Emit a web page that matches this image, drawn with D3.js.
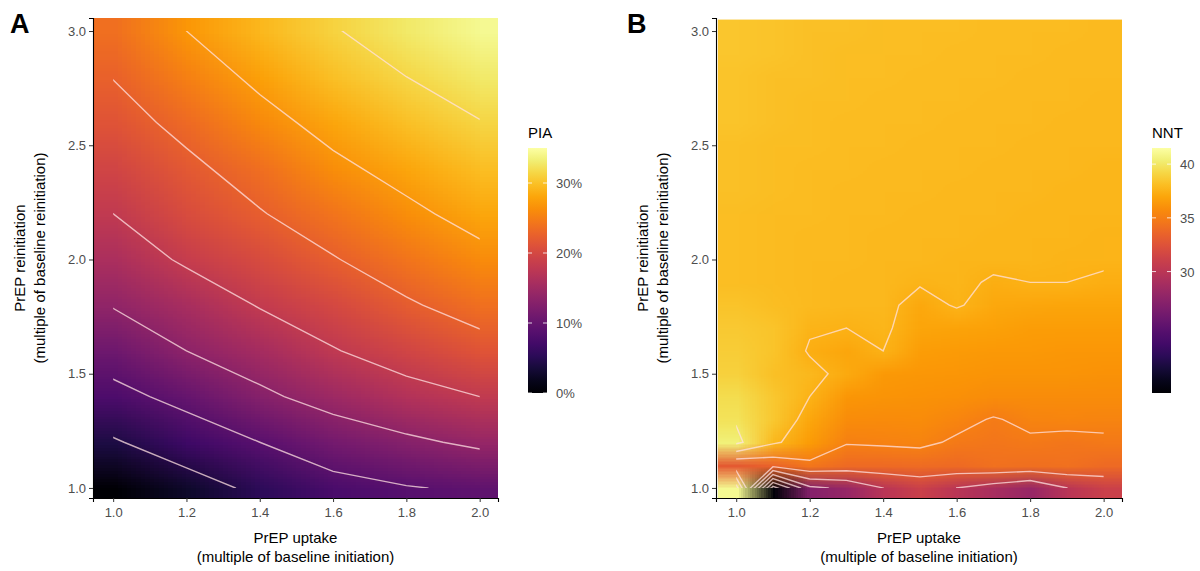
<!DOCTYPE html>
<html>
<head>
<meta charset="utf-8">
<script src="https://cdn.jsdelivr.net/npm/d3@7"></script>
<style>
  body { margin: 0; background: #fff; }
  text { font-family: "Liberation Sans", Arial, sans-serif; }
</style>
</head>
<body>
<svg id="chart" width="1200" height="571"></svg>
<script>
// ---- data ----
// Panel A: PIA (%) on grid, x = PrEP uptake, y = PrEP reinitiation
const piaX = [1.0, 1.2, 1.4, 1.6, 1.8, 2.0];
const piaY = [1.0, 1.2, 1.4, 1.6, 1.8, 2.0, 2.2, 2.4, 2.6, 2.8, 3.0];
// rows = y (bottom to top), columns = x
const piaValues = [
  [0.0, 2.7, 5.4, 7.7, 8.8, 9.5],
  [4.1, 6.8, 9.0, 11.3, 12.8, 14.2],
  [7.9, 10.1, 12.8, 14.9, 16.7, 18.0],
  [10.8, 13.5, 15.5, 17.8, 19.6, 21.2],
  [13.7, 15.8, 18.2, 20.0, 22.1, 23.9],
  [16.0, 18.5, 20.3, 22.3, 24.3, 26.1],
  [18.0, 20.5, 22.3, 24.3, 26.3, 28.1],
  [19.6, 21.8, 23.9, 26.3, 28.1, 29.7],
  [21.2, 23.4, 25.9, 28.1, 29.9, 31.4],
  [22.6, 25.2, 27.7, 29.9, 31.5, 32.9],
  [23.9, 27.0, 29.3, 31.3, 32.9, 34.2]
];
const piaLevels = [4.5, 9, 13.5, 18, 22.5, 27, 31.5];
const piaTicks = [0, 10, 20, 30];

// Panel B: NNT on grid
const nntX = [1.0, 1.1, 1.2, 1.3, 1.4, 1.5, 1.6, 1.7, 1.8, 1.9, 2.0];
const nntY = [1.0, 1.1, 1.2, 1.3, 1.4, 1.5, 1.6, 1.7, 1.8, 1.9, 2.0,
              2.1, 2.2, 2.3, 2.4, 2.5, 2.6, 2.7, 2.8, 2.9, 3.0];
const nntValues = [
  [41.0, 19.0, 27.0, 28.0, 30.0, 31.0, 30.0, 29.0, 28.0, 30.0, 31.0],
  [33.0, 33.5, 34.6, 34.0, 34.0, 34.1, 34.0, 34.3, 34.2, 34.3, 34.0],
  [40.5, 37.8, 36.5, 35.1, 35.2, 35.3, 34.8, 34.6, 34.8, 34.6, 34.8],
  [39.8, 38.5, 37.0, 35.8, 35.7, 35.8, 35.4, 34.9, 35.3, 35.4, 35.3],
  [39.5, 38.5, 37.5, 36.2, 36.1, 36.0, 35.9, 35.8, 35.8, 35.8, 35.8],
  [39.0, 38.2, 37.8, 37.2, 36.4, 36.3, 36.2, 36.1, 36.1, 36.1, 36.0],
  [38.8, 38.3, 37.4, 37.0, 37.5, 36.6, 36.5, 36.4, 36.4, 36.3, 36.3],
  [38.6, 38.3, 37.6, 37.5, 37.7, 36.9, 36.8, 36.7, 36.6, 36.6, 36.6],
  [38.3, 38.1, 37.9, 37.8, 37.8, 37.1, 37.6, 37.1, 37.0, 36.9, 36.9],
  [38.1, 38.0, 37.9, 37.8, 37.8, 37.6, 37.7, 37.4, 37.5, 37.5, 37.4],
  [38.1, 38.0, 37.9, 37.9, 37.8, 37.8, 37.7, 37.7, 37.7, 37.6, 37.6],
  [38.1, 38.0, 37.9, 37.9, 37.8, 37.8, 37.8, 37.7, 37.7, 37.7, 37.6],
  [38.1, 38.0, 38.0, 37.9, 37.9, 37.8, 37.8, 37.8, 37.7, 37.7, 37.7],
  [38.2, 38.1, 38.0, 37.9, 37.9, 37.9, 37.8, 37.8, 37.8, 37.7, 37.7],
  [38.2, 38.1, 38.0, 38.0, 37.9, 37.9, 37.9, 37.8, 37.8, 37.8, 37.7],
  [38.2, 38.1, 38.1, 38.0, 38.0, 37.9, 37.9, 37.9, 37.8, 37.8, 37.8],
  [38.3, 38.2, 38.1, 38.0, 38.0, 38.0, 37.9, 37.9, 37.9, 37.8, 37.8],
  [38.3, 38.2, 38.1, 38.1, 38.0, 38.0, 38.0, 37.9, 37.9, 37.9, 37.8],
  [38.3, 38.2, 38.2, 38.1, 38.1, 38.0, 38.0, 38.0, 37.9, 37.9, 37.9],
  [38.4, 38.3, 38.2, 38.1, 38.1, 38.1, 38.0, 38.0, 38.0, 37.9, 37.9],
  [38.4, 38.3, 38.2, 38.2, 38.1, 38.1, 38.1, 38.0, 38.0, 38.0, 37.9]
];
const nntLevels = [20, 22.5, 25, 27.5, 30, 32.5, 35, 37.5, 40];
const nntTicks = [30, 35, 40];

const axisTicks = [1.0, 1.2, 1.4, 1.6, 1.8, 2.0];
const yTicks = [1.0, 1.5, 2.0, 2.5, 3.0];

const svg = d3.select("#chart");

function panel(opts) {
  const { left, right, top, bottom, xs, ys, values, levels, step, color, letter, letterX } = opts;

  const x = d3.scaleLinear().domain([0.945, 2.05]).range([left, right]);
  const y = d3.scaleLinear().domain([0.956, 3.057]).range([bottom, top]);
  const nx = xs.length, ny = ys.length;
  const sx = step[0], sy = step[1];

  // raster: one pixel per grid value, smoothed when scaled up
  const canvas = document.createElement("canvas");
  canvas.width = nx; canvas.height = ny;
  const ctx = canvas.getContext("2d");
  for (let j = 0; j < ny; j++) {
    for (let i = 0; i < nx; i++) {
      ctx.fillStyle = color(values[j][i]);
      ctx.fillRect(i, ny - 1 - j, 1, 1);
    }
  }
  const clipId = "clip" + letter;
  svg.append("clipPath").attr("id", clipId)
     .append("rect")
     .attr("x", left).attr("y", top)
     .attr("width", right - left).attr("height", bottom - top);

  svg.append("image")
     .attr("href", canvas.toDataURL())
     .attr("x", x(xs[0] - sx / 2))
     .attr("y", y(ys[ny - 1] + sy / 2))
     .attr("width", x(xs[nx - 1] + sx / 2) - x(xs[0] - sx / 2))
     .attr("height", y(ys[0] - sy / 2) - y(ys[ny - 1] + sy / 2))
     .attr("preserveAspectRatio", "none")
     .attr("clip-path", `url(#${clipId})`);

  // contours
  const flat = [];
  values.forEach(row => row.forEach(v => flat.push(v)));
  const contours = d3.contours().size([nx, ny]).smooth(true).thresholds(levels)(flat);
  const proj = d3.geoTransform({
    point: function(px, py) {
      this.stream.point(x(xs[0] + (px - 0.5) * sx), y(ys[0] + (py - 0.5) * sy));
    }
  });
  const innerClip = "inner" + letter;
  svg.append("clipPath").attr("id", innerClip)
     .append("rect")
     .attr("x", x(xs[0])).attr("y", y(ys[ny - 1]))
     .attr("width", x(xs[nx - 1]) - x(xs[0]))
     .attr("height", y(ys[0]) - y(ys[ny - 1]));
  svg.append("g").attr("clip-path", `url(#${innerClip})`)
     .selectAll("path").data(contours).join("path")
     .attr("d", d3.geoPath(proj))
     .attr("fill", "none")
     .attr("stroke", "rgba(255,225,225,0.75)")
     .attr("stroke-width", 1.4);

  // axes
  const xa = svg.append("g").attr("transform", `translate(0,${bottom})`)
     .call(d3.axisBottom(x).tickValues(axisTicks).tickFormat(d3.format(".1f"))
       .tickSizeOuter(0).tickSize(4).tickPadding(6));
  const ya = svg.append("g").attr("transform", `translate(${left},0)`)
     .call(d3.axisLeft(y).tickValues(yTicks).tickFormat(d3.format(".1f")).tickSizeOuter(0).tickSize(4));
  [xa, ya].forEach(a => {
    a.select(".domain").attr("stroke", "#000").attr("stroke-width", 1.1);
    a.selectAll(".tick line").attr("stroke", "#333");
    a.selectAll(".tick text").attr("font-size", 13).attr("fill", "#4d4d4d")
     .attr("font-family", "Liberation Sans, Arial, sans-serif");
  });

  const cx = (left + right) / 2;
  svg.append("text").attr("x", cx).attr("y", 543).attr("text-anchor", "middle")
     .attr("font-size", 15).text("PrEP uptake");
  svg.append("text").attr("x", cx).attr("y", 562).attr("text-anchor", "middle")
     .attr("font-size", 15).text("(multiple of baseline initiation)");
  const cy = (top + bottom) / 2;
  svg.append("text").attr("transform", `translate(${left - 68},${cy}) rotate(-90)`)
     .attr("text-anchor", "middle").attr("font-size", 15).text("PrEP reinitiation");
  svg.append("text").attr("transform", `translate(${left - 48},${cy}) rotate(-90)`)
     .attr("text-anchor", "middle").attr("font-size", 15).text("(multiple of baseline reinitiation)");

  svg.append("text").attr("x", letterX).attr("y", 33)
     .attr("font-size", 27).attr("font-weight", "bold").text(letter);
}

function legend(opts) {
  const { lx, title, color, domain, ticks, fmt } = opts;
  const top = 148, bottom = 393, w = 19;
  const s = d3.scaleLinear().domain(domain).range([bottom, top]);
  const gid = "grad" + title;
  const grad = svg.append("defs").append("linearGradient").attr("id", gid)
     .attr("x1", 0).attr("y1", 1).attr("x2", 0).attr("y2", 0);
  d3.range(0, 1.001, 0.05).forEach(t => {
    grad.append("stop").attr("offset", t)
        .attr("stop-color", color(domain[0] + t * (domain[1] - domain[0])));
  });
  svg.append("rect").attr("x", lx).attr("y", top).attr("width", w)
     .attr("height", bottom - top).attr("fill", `url(#${gid})`);
  svg.append("text").attr("x", lx).attr("y", 138).attr("font-size", 15).text(title);
  ticks.forEach(t => {
    [lx, lx + w - 4].forEach(px => {
      svg.append("line").attr("x1", px).attr("x2", px + 4)
         .attr("y1", s(t)).attr("y2", s(t))
         .attr("stroke", "rgba(255,255,255,0.8)").attr("stroke-width", 1);
    });
    svg.append("text").attr("x", lx + w + 9).attr("y", s(t) + 5)
       .attr("font-size", 13).attr("fill", "#4d4d4d").text(fmt(t));
  });
}

const piaDomain = [0, 35];
const piaColor = v => d3.interpolateInferno((v - piaDomain[0]) / (piaDomain[1] - piaDomain[0]));
const nntDomain = [18.7, 41.5];
const nntColor = v => d3.interpolateInferno(Math.max(0, Math.min(1, (v - nntDomain[0]) / (nntDomain[1] - nntDomain[0]))));

panel({ left: 93, right: 498, top: 18, bottom: 498, xs: piaX, ys: piaY, values: piaValues,
        levels: piaLevels, step: [0.2, 0.2], color: piaColor, letter: "A", letterX: 10 });
panel({ left: 716, right: 1122, top: 18, bottom: 498, xs: nntX, ys: nntY, values: nntValues,
        levels: nntLevels, step: [0.1, 0.1], color: nntColor, letter: "B", letterX: 627 });

legend({ lx: 528, title: "PIA", color: piaColor, domain: piaDomain, ticks: piaTicks, fmt: d => d + "%" });
legend({ lx: 1152, title: "NNT", color: nntColor, domain: nntDomain, ticks: nntTicks, fmt: d => d });
</script>
</body>
</html>
